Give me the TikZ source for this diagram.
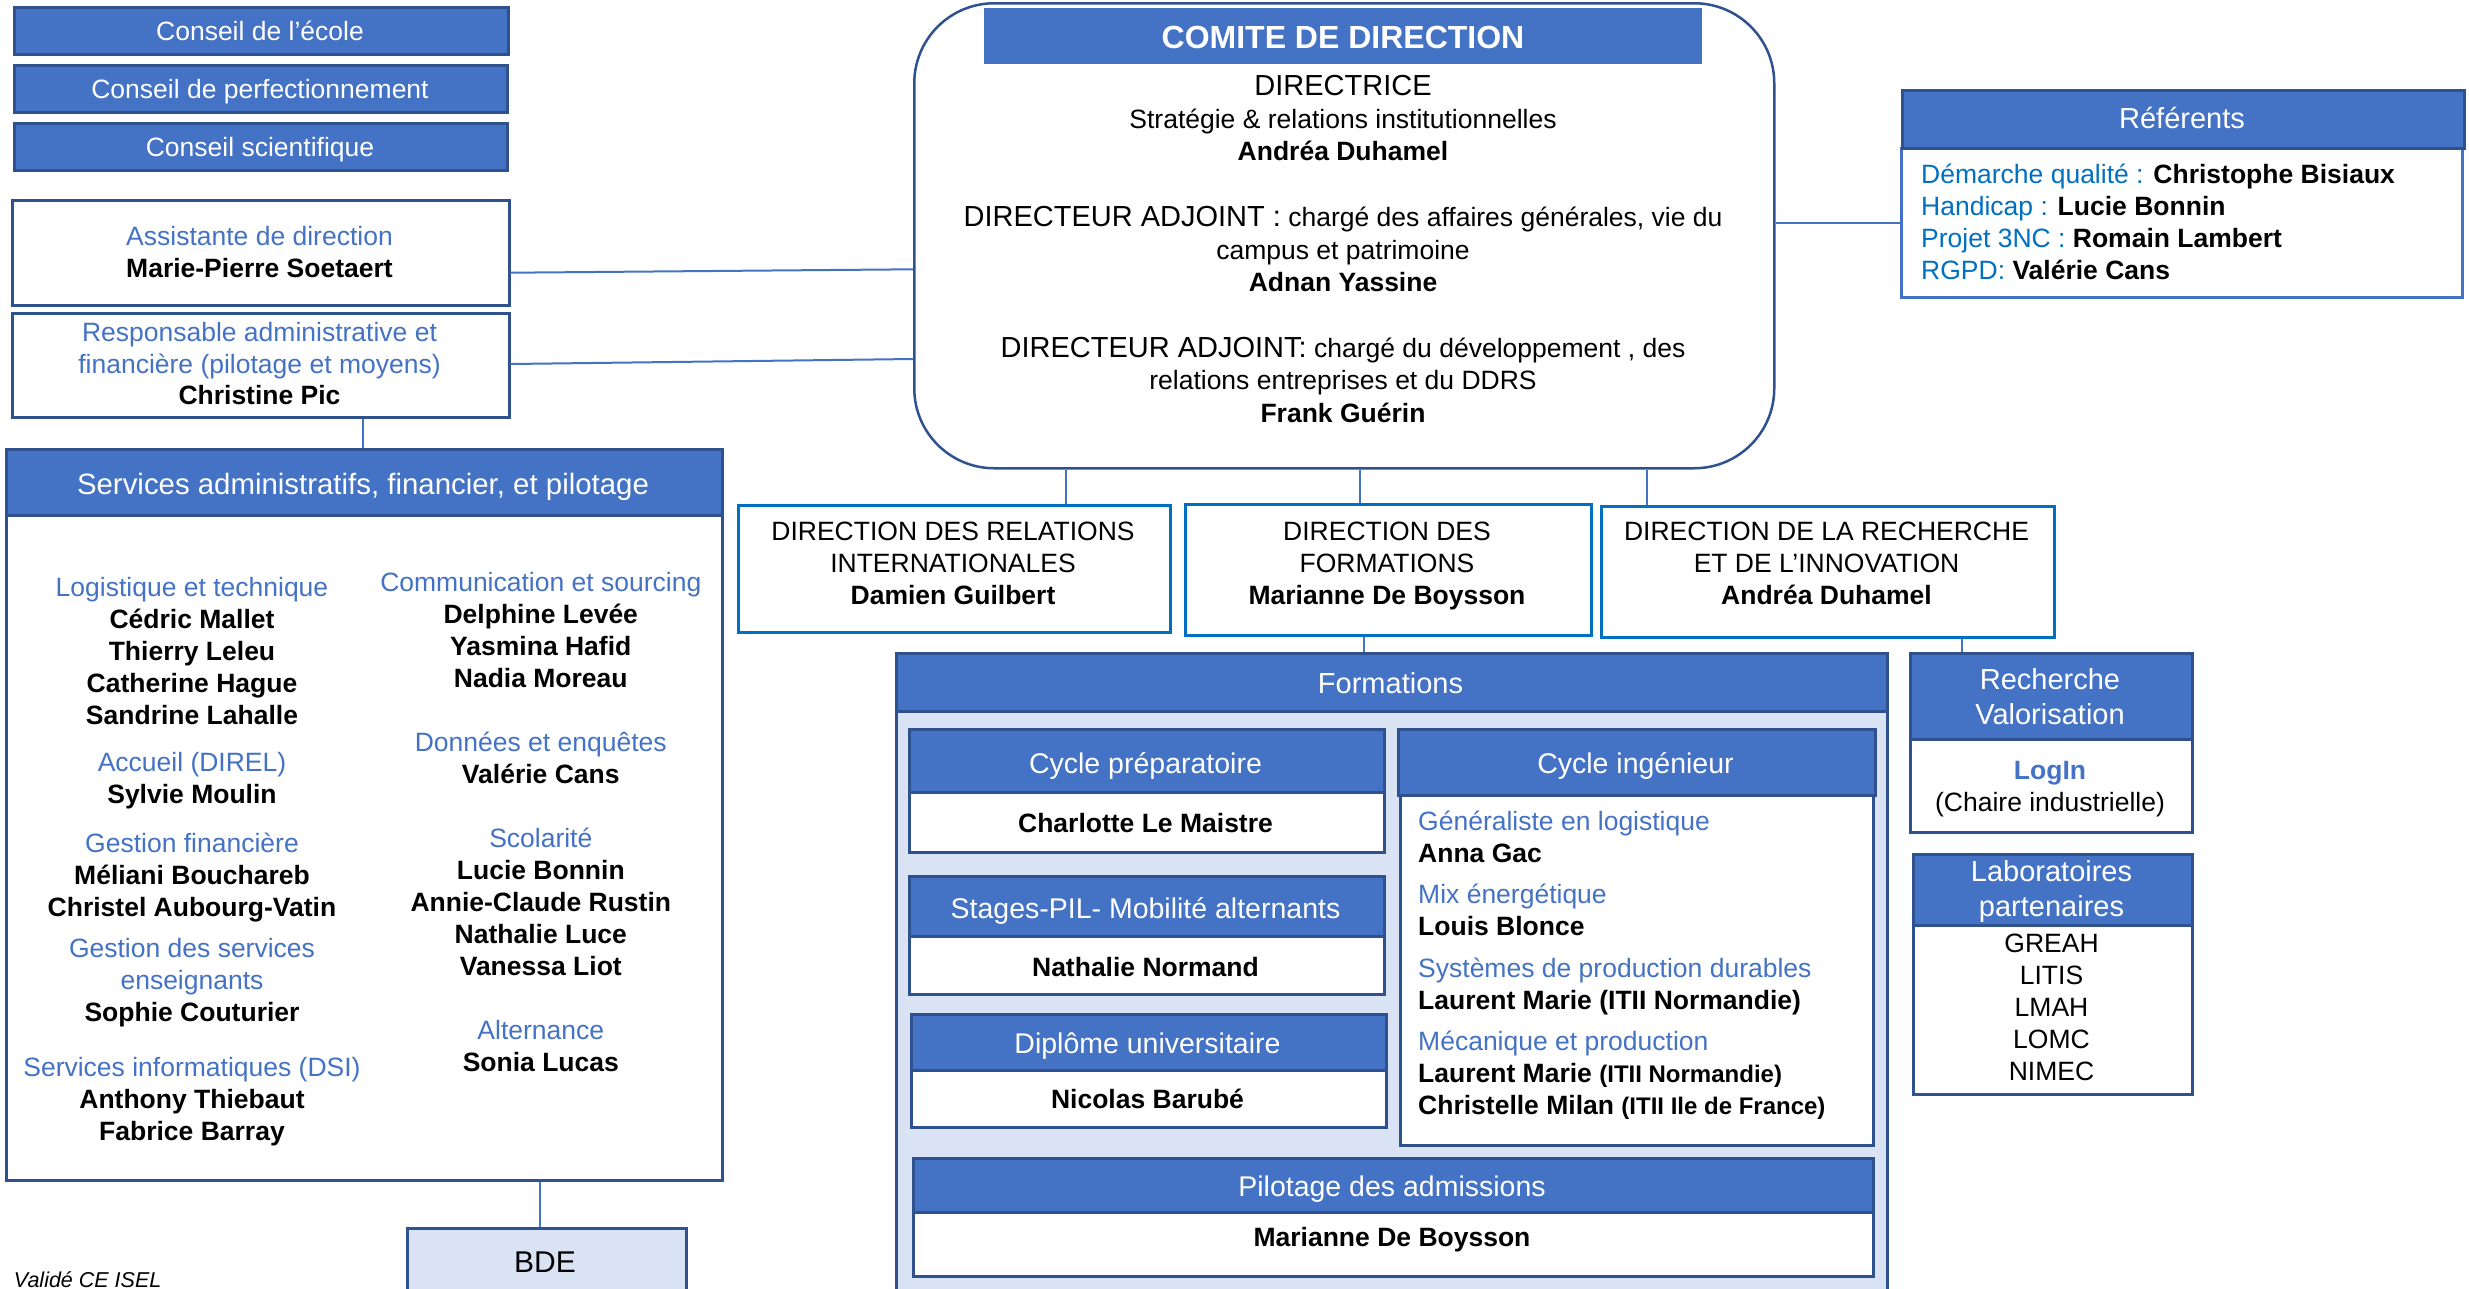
\documentclass[tikz,border=0pt]{standalone}
\usepackage{fontspec}
\setmainfont{Liberation Sans}
\usetikzlibrary{calc}
\definecolor{myblue}{HTML}{4472C4}
\definecolor{darkblue}{HTML}{2F528F}
\definecolor{dirblue}{HTML}{0070C0}
\definecolor{lightbg}{HTML}{DAE3F3}
\definecolor{reftext}{HTML}{0070C0}
\newcommand\TL[4]{{\fontsize{#1bp}{#2bp}\selectfont\setlength\tabcolsep{0pt}\renewcommand\arraystretch{1}\begin{tabular}[t]{#3}#4\end{tabular}}}
\newcommand\bl[1]{\textcolor{myblue}{#1}}
\newcommand\rf[1]{\textcolor{reftext}{#1}}
\newcommand\sm[1]{{\fontsize{24bp}{32bp}\selectfont #1}}
\newcommand\bx[6]{\node[#2, anchor=north west, minimum width={(#5-#3)*1bp}, minimum height={(#6-#4)*1bp}] (#1) at (#3,#4) {};}
\tikzset{
 hdr/.style={fill=myblue, draw=darkblue, line width=2.5bp, inner sep=0pt},
 wbox/.style={fill=white, draw=darkblue, line width=2.5bp, inner sep=0pt},
 refbox/.style={fill=white, draw=myblue, line width=2.5bp, inner sep=0pt},
 dirbox/.style={fill=white, draw=dirblue, line width=3bp, inner sep=0pt},
 lbox/.style={fill=lightbg, draw=darkblue, line width=2.5bp, inner sep=0pt},
 comitebox/.style={fill=white, draw=darkblue, line width=2.5bp, rounded corners=80bp, inner sep=0pt},
 conn/.style={draw=myblue, line width=2bp},
 txt/.style={anchor=base, inner sep=0pt},
 txtl/.style={anchor=base west, inner sep=0pt},
 wt/.style={txt, text=white},
}
\begin{document}
\begin{tikzpicture}[x=1bp,y=-1bp]
\clip (0,0) rectangle (2469,1288);
\fill[white] (0,0) rectangle (2469,1288);

% ---- Conseils
\bx{c1}{hdr}{13}{6}{507}{53}
\bx{c2}{hdr}{13}{64}{506}{111}
\bx{c3}{hdr}{13}{122}{506}{169}
\node[wt] (c1t) at (260,40.7) {\TL{26.5}{32}{c}{Conseil de l’école}};
\node[wt] (c2t) at (260,98.7) {\TL{26.5}{32}{c}{Conseil de perfectionnement}};
\node[wt] (c3t) at (260,156) {\TL{26.5}{32}{c}{Conseil scientifique}};

% ---- Assistante / Responsable
\bx{assist}{wbox}{11}{199}{508}{304}
\bx{resp}{wbox}{11}{312}{508}{416}
\node[txt] (assistt) at (259.5,245.5) {\TL{26.5}{32}{c}{\bl{Assistante de direction}\\ \textbf{Marie-Pierre Soetaert}}};
\node[txt] (respt) at (259.5,341.5) {\TL{26.5}{31.5}{c}{\bl{Responsable administrative et}\\ \bl{financière (pilotage et moyens)}\\ \textbf{Christine Pic}}};

% ---- Comite
\bx{comite}{comitebox}{913}{2}{1773}{467}
\bx{comhdr}{fill=myblue, inner sep=0pt}{984}{8}{1702}{64}
\node[wt] (comt) at (1343,48.3) {\TL{32}{36}{c}{\textbf{COMITE DE DIRECTION}}};
\node[txt] (g1) at (1343,95.7) {\TL{26.5}{32.3}{c}{{\fontsize{29bp}{32bp}\selectfont DIRECTRICE}\\ Stratégie \& relations institutionnelles\\ \textbf{Andréa Duhamel}}};
\node[txt] (g2) at (1343,226.7) {\TL{26.5}{32.5}{c}{{\fontsize{29bp}{32bp}\selectfont DIRECTEUR ADJOINT :} chargé des affaires générales, vie du\\ campus et patrimoine\\ \textbf{Adnan Yassine}}};
\node[txt] (g3) at (1343,357) {\TL{26.5}{32.8}{c}{{\fontsize{29bp}{32bp}\selectfont DIRECTEUR ADJOINT:} chargé du développement , des\\ relations entreprises et du DDRS\\ \textbf{Frank Guérin}}};

% ---- Referents
\bx{refb}{refbox}{1900}{147}{2461}{296}
\bx{refh}{hdr}{1901}{89}{2463}{147}
\node[wt] (refht) at (2182,128.3) {\TL{29}{32}{c}{Référents}};
\node[txtl] (refbt) at (1921,183) {\TL{26.5}{32}{l}{\rf{Démarche qualité :} \textbf{Christophe Bisiaux}\\ \rf{Handicap :} \textbf{Lucie Bonnin}\\ \rf{Projet 3NC :} \textbf{Romain Lambert}\\ \rf{RGPD:} \textbf{Valérie Cans}}};

% ---- Services
\bx{servb}{wbox}{5}{514}{721}{1179}
\bx{servh}{hdr}{5}{448}{721}{514}
\node[wt] (servht) at (363,494) {\TL{29.4}{32}{c}{Services administratifs, financier, et pilotage}};
\node[txt] (sl1) at (192,596.8) {\TL{26.5}{32}{c}{\bl{Logistique et technique}\\ \textbf{Cédric Mallet}\\ \textbf{Thierry Leleu}\\ \textbf{Catherine Hague}\\ \textbf{Sandrine Lahalle}}};
\node[txt] (sl2) at (192,771.5) {\TL{26.5}{32}{c}{\bl{Accueil (DIREL)}\\ \textbf{Sylvie Moulin}}};
\node[txt] (sl3) at (192,852) {\TL{26.5}{32}{c}{\bl{Gestion financière}\\ \textbf{Méliani Bouchareb}\\ \textbf{Christel Aubourg-Vatin}}};
\node[txt] (sl4) at (192,957.6) {\TL{26.5}{32}{c}{\bl{Gestion des services}\\ \bl{enseignants}\\ \textbf{Sophie Couturier}}};
\node[txt] (sl5) at (192,1076) {\TL{26.5}{32}{c}{\bl{Services informatiques (DSI)}\\ \textbf{Anthony Thiebaut}\\ \textbf{Fabrice Barray}}};
\node[txt] (sr1) at (540.8,591.4) {\TL{26.5}{32}{c}{\bl{Communication et sourcing}\\ \textbf{Delphine Levée}\\ \textbf{Yasmina Hafid}\\ \textbf{Nadia Moreau}}};
\node[txt] (sr2) at (540.8,751.5) {\TL{26.5}{32}{c}{\bl{Données et enquêtes}\\ \textbf{Valérie Cans}}};
\node[txt] (sr3) at (540.8,847) {\TL{26.5}{32}{c}{\bl{Scolarité}\\ \textbf{Lucie Bonnin}\\ \textbf{Annie-Claude Rustin}\\ \textbf{Nathalie Luce}\\ \textbf{Vanessa Liot}}};
\node[txt] (sr4) at (540.8,1039) {\TL{26.5}{32}{c}{\bl{Alternance}\\ \textbf{Sonia Lucas}}};

% ---- BDE
\bx{bde}{lbox}{406}{1227}{685}{1300}
\node[txt] (bdet) at (545,1272) {\TL{30}{32}{c}{BDE}};
\node[txtl] (valide) at (13.8,1287) {\TL{21.5}{24}{l}{\textit{Validé CE ISEL}}};

% ---- Directions
\bx{dri}{dirbox}{737}{504}{1169}{631}
\bx{df}{dirbox}{1184}{503}{1590}{634}
\bx{drri}{dirbox}{1600}{505}{2053}{636}
\node[txt] (drit) at (953,540) {\TL{26.5}{32.3}{c}{DIRECTION DES RELATIONS\\ INTERNATIONALES\\ \textbf{Damien Guilbert}}};
\node[txt] (dft) at (1387,540) {\TL{26.5}{32.3}{c}{DIRECTION DES\\ FORMATIONS\\ \textbf{Marianne De Boysson}}};
\node[txt] (drrit) at (1826.5,540) {\TL{26.5}{32.3}{c}{DIRECTION DE LA RECHERCHE\\ ET DE L’INNOVATION\\ \textbf{Andréa Duhamel}}};

% ---- Formations
\bx{formb}{lbox}{895}{710}{1886}{1300}
\bx{formh}{hdr}{895}{652}{1886}{710}
\node[wt] (formt) at (1390.5,693) {\TL{29}{32}{c}{Formations}};
\bx{cpb}{wbox}{908}{791}{1383}{851}
\bx{cph}{hdr}{908}{728}{1383}{791}
\node[wt] (cpht) at (1145.5,773.8) {\TL{28.5}{32}{c}{Cycle préparatoire}};
\node[txt] (cpbt) at (1145.5,832) {\TL{26.5}{32}{c}{\textbf{Charlotte Le Maistre}}};
\bx{stb}{wbox}{908}{935}{1383}{993}
\bx{sth}{hdr}{908}{875}{1383}{935}
\node[wt] (stht) at (1145.5,918) {\TL{28.5}{32}{c}{Stages-PIL- Mobilité alternants}};
\node[txt] (stbt) at (1145.5,976.4) {\TL{26.5}{32}{c}{\textbf{Nathalie Normand}}};
\bx{dub}{wbox}{910}{1069}{1385}{1126}
\bx{duh}{hdr}{910}{1013}{1385}{1069}
\node[wt] (duht) at (1147.5,1053) {\TL{28.5}{32}{c}{Diplôme universitaire}};
\node[txt] (dubt) at (1147.5,1108.8) {\TL{26.5}{32}{c}{\textbf{Nicolas Barubé}}};
\bx{cib}{wbox}{1399}{794}{1872}{1144}
\bx{cih}{hdr}{1397}{728}{1874}{794}
\node[wt] (ciht) at (1635.5,773.8) {\TL{28.5}{32}{c}{Cycle ingénieur}};
\node[txtl] (ci1) at (1418,830.4) {\TL{26.5}{32}{l}{\bl{Généraliste en logistique}\\ \textbf{Anna Gac}}};
\node[txtl] (ci2) at (1418,903.7) {\TL{26.5}{32}{l}{\bl{Mix énergétique}\\ \textbf{Louis Blonce}}};
\node[txtl] (ci3) at (1418,977.3) {\TL{26.5}{32}{l}{\bl{Systèmes de production durables}\\ \textbf{Laurent Marie (ITII Normandie)}}};
\node[txtl] (ci4) at (1418,1050.5) {\TL{26.5}{32}{l}{\bl{Mécanique et production}\\ \textbf{Laurent Marie \sm{(ITII Normandie)}}\\ \textbf{Christelle Milan \sm{(ITII Ile de France)}}}};
\bx{pab}{wbox}{912}{1211}{1872}{1275}
\bx{pah}{hdr}{912}{1157}{1872}{1211}
\node[wt] (paht) at (1392,1196.5) {\TL{28.5}{32}{c}{Pilotage des admissions}};
\node[txt] (pabt) at (1392,1246.5) {\TL{26.5}{32}{c}{\textbf{Marianne De Boysson}}};

% ---- Recherche / Labos
\bx{rvb}{wbox}{1909}{738}{2191}{831}
\bx{rvh}{hdr}{1909}{652}{2191}{738}
\node[wt] (rvht) at (2050,689) {\TL{29}{35}{c}{Recherche\\ Valorisation}};
\node[txt] (rvbt) at (2050,779) {\TL{26.5}{32}{c}{\textbf{\bl{LogIn}}\\ (Chaire industrielle)}};
\bx{lpb}{wbox}{1912}{924}{2191}{1093}
\bx{lph}{hdr}{1912}{853}{2191}{924}
\node[wt] (lpht) at (2051.5,881.7) {\TL{29}{34.3}{c}{Laboratoires\\ partenaires}};
\node[txt] (lpbt) at (2051.5,952.7) {\TL{26.5}{32}{c}{GREAH\\ LITIS\\ LMAH\\ LOMC\\ NIMEC}};

% ---- Connectors
\coordinate (ya) at (0,272.7);
\coordinate (yb) at (0,269.3);
\coordinate (yc) at (0,364);
\coordinate (yd) at (0,359);
\draw[conn] (assist.east |- ya) -- (comite.west |- yb);
\draw[conn] (resp.east |- yc) -- (comite.west |- yd);
\coordinate (xa) at (363,0);
\draw[conn] (xa |- resp.south) -- (xa |- servh.north);
\draw[conn] (refb.west) -- (refb.west -| comite.east);
\coordinate (xb) at (1066,0);
\coordinate (xc) at (1360,0);
\coordinate (xd) at (1647,0);
\draw[conn] (xb |- comite.south) -- (xb |- dri.north);
\draw[conn] (xc |- comite.south) -- (xc |- df.north);
\draw[conn] (xd |- comite.south) -- (xd |- drri.north);
\coordinate (xe) at (1364,0);
\draw[conn] (xe |- df.south) -- (xe |- formh.north);
\coordinate (xf) at (1962,0);
\draw[conn] (xf |- drri.south) -- (xf |- rvh.north);
\coordinate (xg) at (540,0);
\draw[conn] (xg |- servb.south) -- (xg |- bde.north);
\end{tikzpicture}
\end{document}
